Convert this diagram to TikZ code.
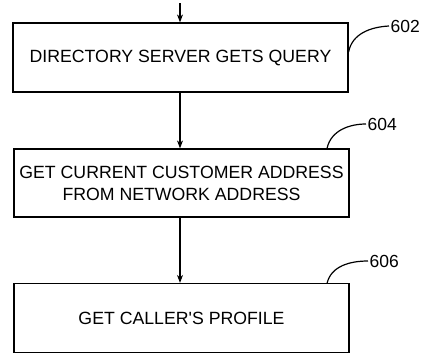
\documentclass[tikz,border=0pt]{standalone}
\usepackage{fontspec}
\setmainfont{Liberation Sans}
\usetikzlibrary{arrows.meta}
\begin{document}
\begin{tikzpicture}[x=1pt, y=-1pt, >={Stealth[length=8pt,width=6pt]}, line width=1.2pt,
  stepbox/.style={draw, minimum width=335pt, minimum height=69pt, align=center, font=\fontsize{17.7}{22}\selectfont, inner sep=0pt},
  reflabel/.style={anchor=west, inner sep=1pt, font=\fontsize{17.5}{20}\selectfont}]
\useasboundingbox (0,0) rectangle (426,354);
\node[stepbox] (query) at (180.5, 57.5) {DIRECTORY SERVER GETS QUERY};
\node[stepbox, minimum height=68pt] (addr) at (181.5, 183) {GET CURRENT CUSTOMER ADDRESS\\FROM NETWORK ADDRESS};
\node[stepbox] (profile) at (181.5, 318) {GET CALLER\textquotesingle S PROFILE};
\coordinate (start) at (180, 3);
\draw[->] (start) -- (query.north -| start);
\draw[->] (query.south -| start) -- (addr.north -| start);
\draw[->] (addr.south -| start) -- (profile.north -| start);
% reference numerals
\node[reflabel] (n602) at (389, 26) {602};
\node[reflabel] (n604) at (366, 124) {604};
\node[reflabel] (n606) at (368, 261) {606};
\draw (query.east |- 0,52) .. controls (352,34) and (370,27) .. (n602.west);
\draw (327, 148.5) .. controls (331,130) and (350,124) .. (n604.west);
\draw (327, 283.5) .. controls (331,266) and (350,261) .. (n606.west);
\end{tikzpicture}
\end{document}
